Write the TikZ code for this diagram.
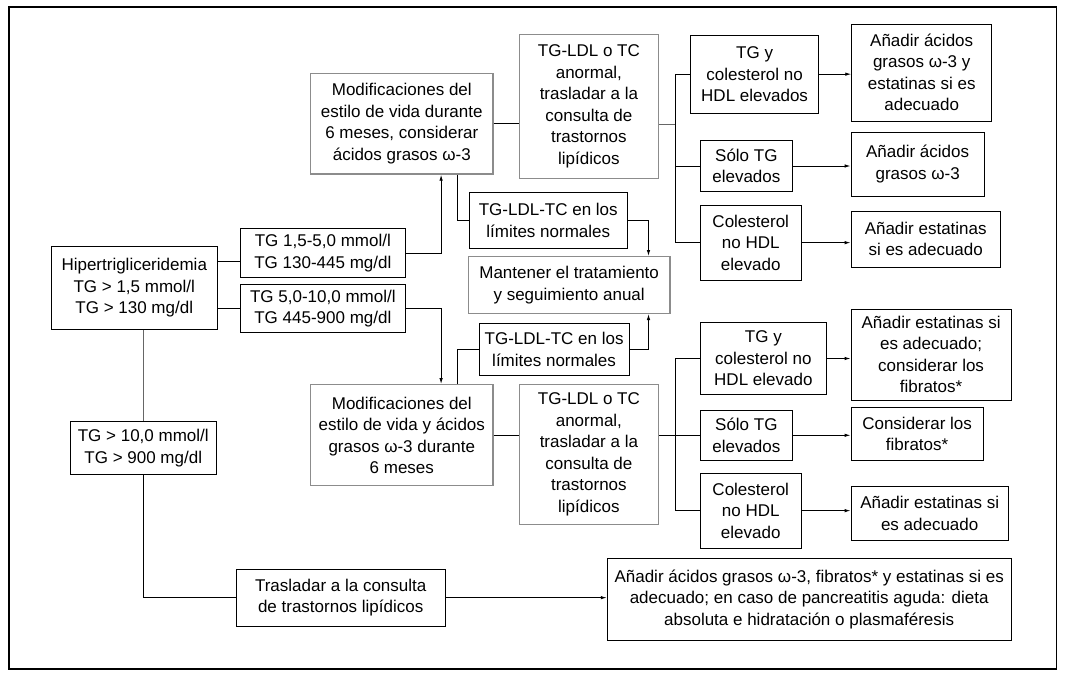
\documentclass[tikz,border=0pt]{standalone}
\usepackage{fontspec}
\setmainfont{Liberation Sans}
\usetikzlibrary{arrows.meta}
\tikzset{
  box/.style={draw=black, line width=0.9pt, inner sep=0pt, align=center, font=\fontsize{17}{21.5}\selectfont},
  gbox/.style={box, draw=black!45, line width=1.4pt},
  ln/.style={line width=0.9pt},
  arr/.style={ln, -{Latex[length=6pt,width=3.5pt]}},
}
\begin{document}
\begin{tikzpicture}[x=1pt,y=-1pt]
\useasboundingbox (0,0) rectangle (1069,678);
\draw[line width=1.2pt] (9,7) rectangle (1056.5,669);
% nodes
\node[box, minimum width=165.5, minimum height=82.6] (hyper) at (134.25,288) {Hipertrigliceridemia\\TG > 1,5 mmol/l\\TG > 130 mg/dl};
\node[box, minimum width=164.9, minimum height=48.6] (tg1) at (322.85,253) {TG 1,5-5,0 mmol/l\\TG 130-445 mg/dl};
\node[box, minimum width=164.9, minimum height=48.4] (tg2) at (322.85,308.5) {TG 5,0-10,0 mmol/l\\TG 445-900 mg/dl};
\node[box, minimum width=146.1, minimum height=52.3] (tg3) at (143.25,447.85) {TG > 10,0 mmol/l\\TG > 900 mg/dl};
\node[gbox, minimum width=182.4, minimum height=100.7] (mod1) at (401.8,123.65) {Modificaciones del\\estilo de vida durante\\6 meses, considerar\\ácidos grasos ω-3};
\node[gbox, minimum width=182.4, minimum height=101] (mod2) at (401.8,435.2) {Modificaciones del\\estilo de vida y ácidos\\grasos ω-3 durante\\6 meses};
\node[gbox, minimum width=138.8, minimum height=144] (ldl1) at (588.9,106.3) {TG-LDL o TC\\anormal,\\trasladar a la\\consulta de\\trastornos\\lipídicos};
\node[gbox, minimum width=138.8, minimum height=139.6] (ldl2) at (588.9,454.5) {TG-LDL o TC\\anormal,\\trasladar a la\\consulta de\\trastornos\\lipídicos};
\node[box, minimum width=158.5, minimum height=56] (norm1) at (548.25,220.3) {TG-LDL-TC en los\\límites normales};
\node[box, minimum width=150.2, minimum height=52.4] (norm2) at (554.1,349.5) {TG-LDL-TC en los\\límites normales};
\node[gbox, minimum width=201.7, minimum height=56.6] (mant) at (569.15,285) {Mantener el tratamiento\\y seguimiento anual};
\node[box, minimum width=127.4, minimum height=78.3] (a1) at (754.6,74.15) {TG y\\colesterol no\\HDL elevados};
\node[box, minimum width=92.1, minimum height=51.4] (a2) at (746.35,166) {Sólo TG\\elevados};
\node[box, minimum width=100.9, minimum height=74.7] (a3) at (750.75,242.65) {Colesterol\\no HDL\\elevado};
\node[box, minimum width=140, minimum height=97] (r1) at (921.7,72.5) {Añadir ácidos\\grasos ω-3 y\\estatinas si es\\adecuado};
\node[box, minimum width=133.3, minimum height=63.7] (r2) at (917.65,164.15) {Añadir ácidos\\grasos ω-3};
\node[box, minimum width=149.4, minimum height=56.3] (r3) at (925.7,239.15) {Añadir estatinas\\si es adecuado};
\node[box, minimum width=126.1, minimum height=71.6] (b1) at (763.35,358.5) {TG y\\colesterol no\\HDL elevado};
\node[box, minimum width=92.1, minimum height=50] (b2) at (746.35,435.3) {Sólo TG\\elevados};
\node[box, minimum width=100.9, minimum height=74.7] (b3) at (750.75,510.65) {Colesterol\\no HDL\\elevado};
\node[box, minimum width=160.2, minimum height=90.7] (s1) at (931.1,354.65) {Añadir estatinas si\\es adecuado;\\considerar los\\fibratos*};
\node[box, minimum width=132.2, minimum height=53] (s2) at (917.1,433.8) {Considerar los\\fibratos*};
\node[box, minimum width=157.4, minimum height=53.3] (s3) at (929.7,513.35) {Añadir estatinas si\\es adecuado};
\node[box, minimum width=209, minimum height=56.7] (tras) at (340.7,597.65) {Trasladar a la consulta\\de trastornos lipídicos};
\node[box, minimum width=404, minimum height=81.7] (fin) at (809.2,599.15) {Añadir ácidos grasos ω-3, fibratos* y estatinas si es\\adecuado; en caso de pancreatitis aguda: dieta\\absoluta e hidratación o plasmaféresis};
% bus coordinates
\coordinate (bus1) at (675.1,124);
\coordinate (bus2) at (675.1,435.3);
% connectors
\draw[ln] ([yshift=26.3pt]hyper.east) -- ([yshift=26.3pt]hyper.east -| tg1.west);
\draw[ln] (tg2.west -| hyper.east) -- (tg2.west);
\draw[ln, black!60] (hyper.south -| tg3.north) -- (tg3.north);
\draw[ln] (tg3.south) |- (tras.west);
\draw[arr] (tras.east) -- (tras.east -| fin.west);
\draw[arr] (tg1.east) -| ([xshift=39.3pt]mod1.south);
\draw[arr] (tg2.east) -| ([xshift=39.3pt]mod2.north);
\draw[ln] (mod1.east) -- (mod1.east -| ldl1.west);
\draw[ln] ([xshift=55.8pt]mod1.south) |- (norm1.west);
\draw[ln] (mod2.east) -- (mod2.east -| ldl2.west);
\draw[ln] ([xshift=55.8pt]mod2.north) |- (norm2.west);
\draw[arr] (norm1.east) -| ([xshift=79.35pt]mant.north);
\draw[arr] (norm2.east) -| ([xshift=79.35pt]mant.south);
% upper bus
\draw[ln, black!60] (bus1 -| ldl1.east) -- (bus1);
\draw[ln] (a1.west) -| (bus1) |- (a3.west);
\draw[ln] (a2.west) -- (a2.west -| bus1);
\draw[arr] (a1.east) -- (a1.east -| r1.west);
\draw[arr] (a2.east) -- (a2.east -| r2.west);
\draw[arr] (a3.east) -- (a3.east -| r3.west);
% lower bus
\draw[ln] (bus2 -| ldl2.east) -- (bus2);
\draw[ln] (b1.west) -| (bus2) |- (b3.west);
\draw[ln] (b2.west) -- (b2.west -| bus2);
\draw[arr] (b1.east) -- (b1.east -| s1.west);
\draw[arr] (b2.east) -- (b2.east -| s2.west);
\draw[arr] (b3.east) -- (b3.east -| s3.west);
\end{tikzpicture}
\end{document}
